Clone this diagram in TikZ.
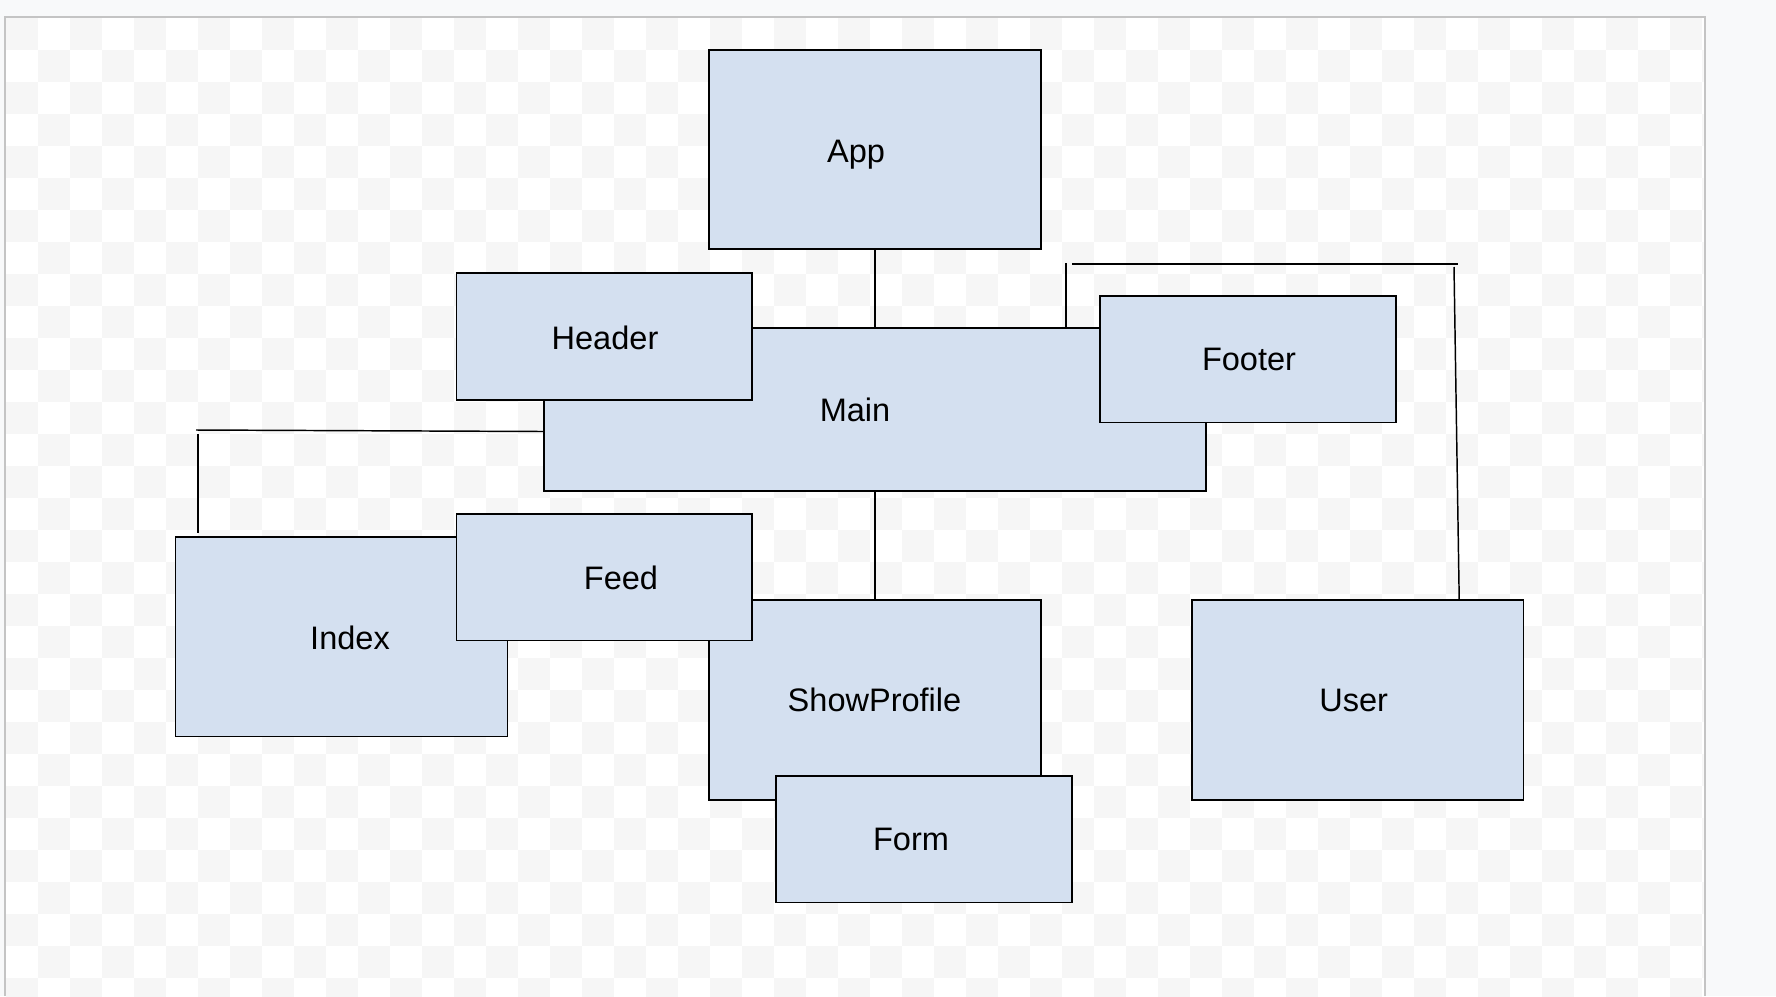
\documentclass[tikz,border=0pt]{standalone}
\usepackage{fontspec}
\setmainfont{Liberation Sans}
\usetikzlibrary{fit,calc}
\definecolor{boxfill}{RGB}{212,224,240}
\definecolor{pagebg}{RGB}{248,249,250}
\definecolor{checkgray}{RGB}{246,246,246}
\definecolor{framegray}{RGB}{196,196,196}
\begin{document}
\begin{tikzpicture}[x=0.75pt,y=-0.75pt,
  box/.style={draw=black, fill=boxfill, line width=1.2pt, inner sep=0pt},
  lbl/.style={anchor=base, inner sep=0pt, font=\fontsize{24.4}{29}\selectfont},
  conn/.style={draw=black, line width=1.1pt}]
\useasboundingbox (0,0) rectangle (1776,996);
% page background
\fill[pagebg] (0,0) rectangle (1776,996);
\fill[white] (5,17) rectangle (1704.5,996);
\begin{scope}
  \clip (6,18) rectangle (1703.5,996);
  \foreach \j in {0,...,30} {
    \pgfmathsetmacro\off{mod(\j,2)*32}
    \foreach \i in {0,...,26} {
      \fill[checkgray] ({6+\off+64*\i},{18+32*\j}) rectangle ++(32,32);
    }
  }
\end{scope}
\draw[framegray, line width=1.5pt] (5,996) -- (5,17) -- (1704.5,17) -- (1704.5,996);

% boxes
\node[box, fit={(544,328) (1206,491)}] (main) {};
\node[box, fit={(456.5,273) (752,400)}] (header) {};
\node[box, fit={(1100,296) (1396,422.5)}] (footer) {};
\node[box, fit={(709,50) (1041,249)}] (app) {};
\node[box, fit={(175.5,537) (507.5,736.5)}] (index) {};
\node[box, fit={(709,600) (1041,800)}] (sp) {};
\node[box, fit={(456.5,514) (752,640.5)}] (feed) {};
\node[box, fit={(776,776) (1072,902.5)}] (form) {};
\node[box, fit={(1192,600) (1523.5,800)}] (user) {};

% connectors
\draw[conn] (app.south) -- (main.north);
\draw[conn] (main.south) -- (sp.north);

\coordinate (ic1) at (196,430);
\coordinate (ic2) at (198,434);
\coordinate (ie) at ($(ic2 |- index.north)+(0,-3)$);
\draw[conn] ([yshift=-16.5pt]main.west) -- (ic1);
\draw[conn] (ic2) -- (ie);

\coordinate (r1) at (1066,263);
\coordinate (r2) at (1072,264);
\coordinate (r3) at (1458,264);
\coordinate (r4) at (1454,267);
\coordinate (ue) at ($(user.north west)+(268,0)$);
\draw[conn] (r1 |- main.north) -- (r1);
\draw[conn] (r2) -- (r3);
\draw[conn] (r4) -- (ue);

% labels
\node[lbl] (tapp) at (856,162.2) {App};
\node[lbl] (theader) at (605,349) {Header};
\node[lbl] (tmain) at (855,421.6) {Main};
\node[lbl] (tfooter) at (1249,370.7) {Footer};
\node[lbl] (tindex) at (350,649.3) {Index};
\node[lbl] (tfeed) at (621,589.3) {Feed};
\node[lbl] (tsp) at (874.5,711.6) {ShowProfile};
\node[lbl] (tform) at (911,850) {Form};
\node[lbl] (tuser) at (1353.6,711.6) {User};
\end{tikzpicture}
\end{document}
